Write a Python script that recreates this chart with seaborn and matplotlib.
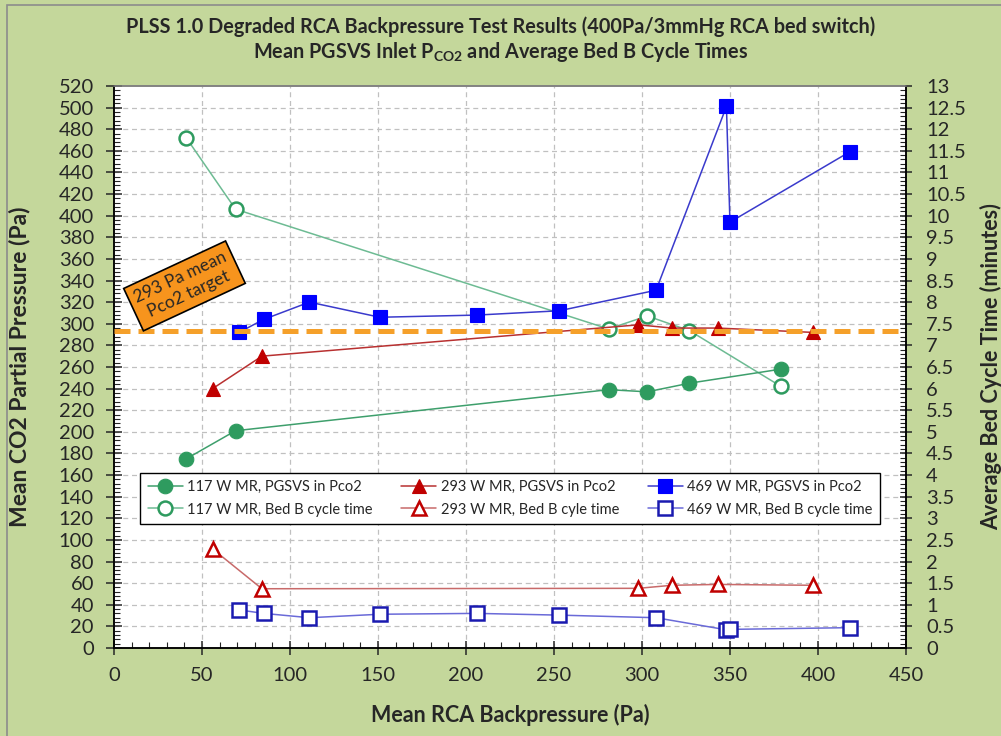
import numpy as np
import pandas as pd
import matplotlib
matplotlib.use("Agg")
import matplotlib.pyplot as plt
from matplotlib.ticker import MultipleLocator, FuncFormatter
from matplotlib.patches import Rectangle
import seaborn as sns

# valores
x_117 = [41, 69, 281, 303, 327, 379]
pco2_117 = [175, 201, 239, 237, 245, 258]
ciclo_117 = [11.8, 10.15, 7.38, 7.68, 7.34, 6.05]

x_293 = [56, 84, 298, 317, 343, 397]
pco2_293 = [240, 270, 299, 296, 296, 292]
ciclo_293 = [2.29, 1.37, 1.38, 1.45, 1.47, 1.45]

x_469 = [71, 85, 111, 151, 206, 253, 308, 348, 350, 418]
pco2_469 = [292, 304, 320, 306, 308, 312, 331, 501, 394, 459]
ciclo_469 = [0.88, 0.80, 0.70, 0.78, 0.80, 0.76, 0.70, 0.42, 0.43, 0.47]

objetivo = 293

sns.set_style("ticks")
plt.rcParams['font.family'] = ['Lato', 'DejaVu Sans']
plt.rcParams['mathtext.fontset'] = 'custom'
plt.rcParams['mathtext.bf'] = 'Lato:bold'
plt.rcParams['mathtext.rm'] = 'Lato'

fondo = '#C4D79B'
fig = plt.figure(figsize=(10.01, 7.36), dpi=100, facecolor=fondo)
ax2 = fig.add_axes([0.114, 0.1196, 0.791, 0.7636])
ax = ax2.twinx()
ax.yaxis.tick_left()
ax.yaxis.set_label_position('left')
ax2.yaxis.tick_right()
ax2.yaxis.set_label_position('right')
ax.set_zorder(ax2.get_zorder() + 1)
ax.patch.set_visible(False)
ax2.set_facecolor('white')

verde, rojo, azul = '#2E9B5F', '#C00000', '#0000FF'

def serie(eje, x, y, color, linea, marker, ms, label, hueco=False):
    df = pd.DataFrame({'x': x, 'y': y})
    sns.lineplot(data=df, x='x', y='y', ax=eje, sort=False, estimator=None,
                 color=linea, lw=1.1, marker=marker, markersize=ms,
                 markerfacecolor='white' if hueco else color,
                 markeredgecolor=color, markeredgewidth=1.8 if hueco else 0.8,
                 label=label, legend=False)
    return eje.get_lines()[-1]

h1 = serie(ax, x_117, pco2_117, verde, '#3E9F6C', 'o', 10.5, '117 W MR, PGSVS in Pco2')
h3 = serie(ax, x_293, pco2_293, rojo, '#B83030', '^', 10.5, '293 W MR, PGSVS in Pco2')
h5 = serie(ax, x_469, pco2_469, azul, '#3A3ACC', 's', 10, '469 W MR, PGSVS in Pco2')
h2 = serie(ax2, x_117, ciclo_117, verde, '#6DBB93', 'o', 10, '117 W MR, Bed B cycle time', True)
h4 = serie(ax2, x_293, ciclo_293, rojo, '#C86A6A', '^', 10.5, '293 W MR, Bed B cyle time', True)
h6 = serie(ax2, x_469, ciclo_469, '#1A1AB0', '#6A6AD8', 's', 9.5, '469 W MR, Bed B cycle time', True)

ax.axhline(objetivo, color='#F5A02A', lw=3.6, dashes=(3.2, 1.6), zorder=10)

ax.text(40, 335, '293 Pa mean\nPco2 target', rotation=25, ha='center', va='center',
        fontsize=12.5, rotation_mode='anchor',
        bbox=dict(boxstyle='square,pad=0.35', fc='#F7941D', ec='black', lw=1.2), zorder=11)

# ejes
ax.set_xlim(0, 450)
ax.set_ylim(0, 520)
ax2.set_ylim(0, 13)
ax2.xaxis.set_major_locator(MultipleLocator(50))
ax2.xaxis.set_minor_locator(MultipleLocator(10))
ax.yaxis.set_major_locator(MultipleLocator(20))
ax.yaxis.set_minor_locator(MultipleLocator(4))
ax2.yaxis.set_major_locator(MultipleLocator(0.5))
ax2.yaxis.set_minor_locator(MultipleLocator(0.1))
ax2.yaxis.set_major_formatter(FuncFormatter(lambda v, p: f'{v:g}'))

ax.grid(False)
ax2.grid(False)
for v in np.arange(20, 520, 20):
    ax2.axhline(v / 40, color='#C0C0C0', lw=0.9, ls=(0, (4, 3)), zorder=0)
for v in np.arange(50, 450, 50):
    ax2.axvline(v, color='#C0C0C0', lw=0.9, ls=(0, (4, 3)), zorder=0)

ax.tick_params(axis='y', which='major', direction='inout', length=11, width=1.1,
               labelsize=14.5, pad=9)
ax.tick_params(axis='y', which='minor', direction='in', length=4, width=0.8)
ax2.tick_params(axis='y', which='major', direction='inout', length=9, width=1.1,
                labelsize=14.5, pad=10)
ax2.tick_params(axis='y', which='minor', direction='in', length=4, width=0.8)
ax2.tick_params(axis='x', which='major', direction='inout', length=10, width=1.1,
                labelsize=14.5, pad=9)
ax2.tick_params(axis='x', which='minor', direction='in', length=4, width=0.8)
ax.tick_params(axis='x', which='both', bottom=False, labelbottom=False)

for a in (ax, ax2):
    a.spines['top'].set_color('#808080')
    a.spines['left'].set_color('black')
    a.spines['right'].set_color('black')
    a.spines['bottom'].set_color('black')
    for s in a.spines.values():
        s.set_linewidth(1.1)

ax.set_xlabel('')
ax2.set_xlabel('Mean RCA Backpressure (Pa)', fontsize=15.5, fontweight='bold')
ax2.xaxis.set_label_coords(0.5, -0.1)
ax.set_ylabel('Mean CO2 Partial Pressure (Pa)', fontsize=16.5, fontweight='bold')
ax.yaxis.set_label_coords(-0.106, 0.5)
ax2.set_ylabel('Average Bed Cycle Time (minutes)', fontsize=15.5, fontweight='bold')
ax2.yaxis.set_label_coords(1.094, 0.5)

leg = ax.legend(handles=[h1, h2, h3, h4, h5, h6], ncol=3, loc='center',
                bbox_to_anchor=(0.033, 0.222, 0.934, 0.089), mode='expand',
                fontsize=10.5, frameon=True, fancybox=False, edgecolor='black',
                framealpha=1, handlelength=2.4, handletextpad=0.3,
                borderaxespad=0, labelspacing=0.6, borderpad=0.5)
leg.get_frame().set_linewidth(1.0)
leg.set_zorder(12)

fig.text(0.5, 1 - 27 / 736,
         'PLSS 1.0 Degraded RCA Backpressure Test Results (400Pa/3mmHg RCA bed switch)',
         ha='center', va='center', fontsize=14.3, fontweight='bold')
fig.text(0.5, 1 - 52 / 736,
         r'Mean PGSVS Inlet P$_{\mathbf{CO2}}$ and Average Bed B Cycle Times',
         ha='center', va='center', fontsize=14.3, fontweight='bold')

fig.add_artist(Rectangle((0.007, -0.01), 1.0, 1.003, transform=fig.transFigure,
                         fill=False, ec='#8C8C8C', lw=1.2))

plt.savefig('out.png', dpi=100, facecolor=fondo)
